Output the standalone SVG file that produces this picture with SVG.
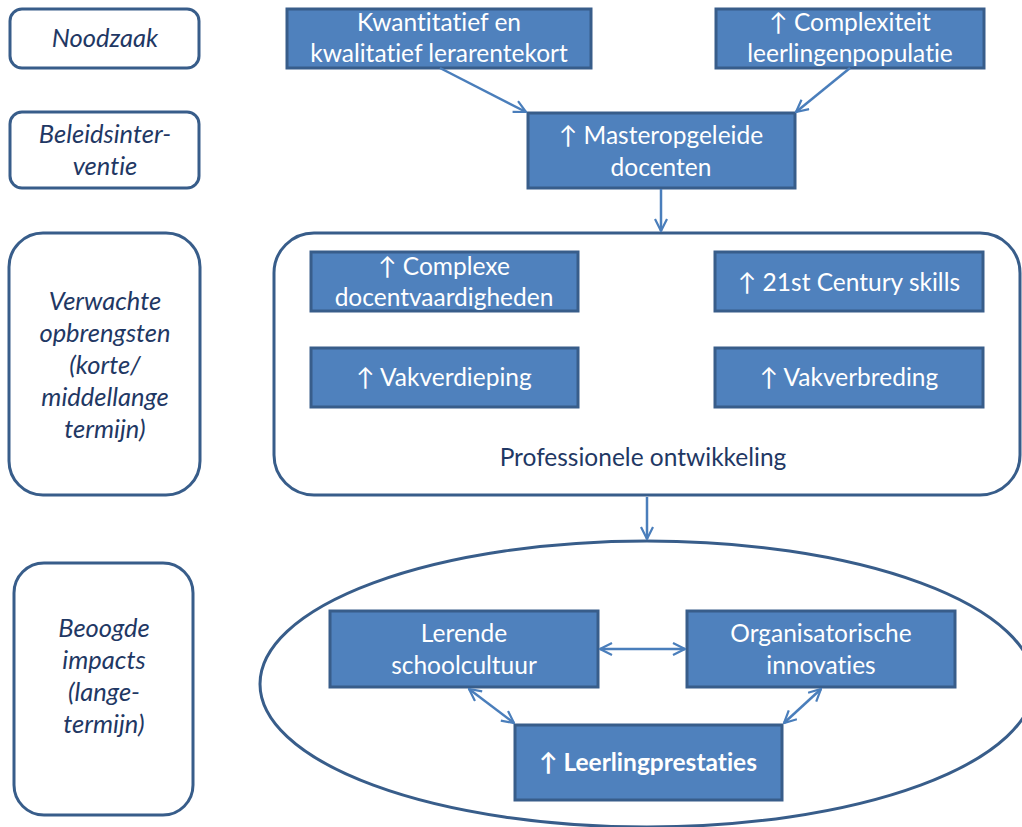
<svg xmlns="http://www.w3.org/2000/svg" width="1022" height="827" viewBox="0 0 1022 827">
<defs>
<marker id="ah" viewBox="0 0 14 14" refX="13" refY="7" markerWidth="14" markerHeight="14" markerUnits="userSpaceOnUse" orient="auto-start-reverse">
<path d="M1,1 L13,7 L1,13" fill="none" stroke="#4a7ebb" stroke-width="2.2"/>
</marker>
<style>
text{font-variant-ligatures:none}
.lbl{fill:#fff;stroke:#385d8a;stroke-width:3}
.lt{font-family:Lato,"Open Sans",sans-serif;font-style:italic;font-size:25.5px;fill:#1f3864;text-anchor:middle}
.box{fill:#4f81bd;stroke:#385d8a;stroke-width:3}
.bt{font-family:Lato,"Open Sans",sans-serif;font-size:24.5px;fill:#fff;text-anchor:middle}
.grp{fill:#fff;stroke:#385d8a;stroke-width:3}
.gt{font-family:Lato,"Open Sans",sans-serif;font-size:24.5px;fill:#1f3864;text-anchor:middle}
.c{stroke:#4a7ebb;stroke-width:2.5;fill:none}
</style>
</defs>
<rect width="1022" height="827" fill="#fff"/>

<g id="lbl-noodzaak"><rect class="lbl" x="10" y="9" width="189" height="59" rx="12"/><text class="lt" x="105" y="47">Noodzaak</text></g>
<g id="lbl-beleid"><rect class="lbl" x="10" y="112" width="189" height="76" rx="12"/><text class="lt" x="105" y="143">Beleidsinter-</text><text class="lt" x="105" y="175">ventie</text></g>
<g id="lbl-verwacht"><rect class="lbl" x="9" y="233" width="191" height="262" rx="34"/>
<text class="lt" x="105" y="310">Verwachte</text><text class="lt" x="105" y="342">opbrengsten</text><text class="lt" x="105" y="374">(korte/</text><text class="lt" x="105" y="406">middellange</text><text class="lt" x="105" y="438">termijn)</text></g>
<g id="lbl-beoogd"><rect class="lbl" x="14" y="563" width="179" height="252" rx="30"/>
<text class="lt" x="104" y="637">Beoogde</text><text class="lt" x="104" y="669">impacts</text><text class="lt" x="104" y="701">(lange-</text><text class="lt" x="104" y="733">termijn)</text></g>

<g id="n-kwant"><rect class="box" x="287" y="9" width="304" height="59"/><text class="bt" x="439" y="31">Kwantitatief en</text><text class="bt" x="439" y="62">kwalitatief lerarentekort</text></g>
<g id="n-complex"><rect class="box" x="716" y="9" width="268" height="59"/><text class="bt" x="850" y="31">↑ Complexiteit</text><text class="bt" x="850" y="62">leerlingenpopulatie</text></g>
<g id="n-master"><rect class="box" x="528" y="113" width="267" height="75"/><text class="bt" x="661" y="144">↑ Masteropgeleide</text><text class="bt" x="661" y="176">docenten</text></g>

<g id="n-prof"><rect class="grp" x="274" y="233" width="746" height="262" rx="40"/><text class="gt" x="643" y="466">Professionele ontwikkeling</text></g>
<g id="n-cdv"><rect class="box" x="311" y="252" width="267" height="59"/><text class="bt" x="444" y="275">↑ Complexe</text><text class="bt" x="444" y="306">docentvaardigheden</text></g>
<g id="n-21"><rect class="box" x="715" y="252" width="268" height="59"/><text class="bt" x="849" y="291">↑ 21st Century skills</text></g>
<g id="n-vdiep"><rect class="box" x="311" y="348" width="267" height="59"/><text class="bt" x="444" y="386">↑ Vakverdieping</text></g>
<g id="n-vbreed"><rect class="box" x="715" y="348" width="268" height="59"/><text class="bt" x="849" y="386">↑ Vakverbreding</text></g>

<g id="n-impact"><ellipse class="grp" cx="647" cy="684" rx="387" ry="143"/></g>
<g id="n-lerend"><rect class="box" x="330" y="611" width="268" height="76"/><text class="bt" x="464" y="642">Lerende</text><text class="bt" x="464" y="674">schoolcultuur</text></g>
<g id="n-org"><rect class="box" x="687" y="611" width="268" height="76"/><text class="bt" x="821" y="642">Organisatorische</text><text class="bt" x="821" y="674">innovaties</text></g>
<g id="n-leerling"><rect class="box" x="515" y="725" width="267" height="75"/><text class="bt" x="648" y="771" font-weight="bold">↑ Leerlingprestaties</text></g>

<g id="connectors">
<line class="c" x1="440" y1="68" x2="526" y2="112" marker-end="url(#ah)"/>
<line class="c" x1="850" y1="68" x2="796" y2="112" marker-end="url(#ah)"/>
<line class="c" x1="661" y1="189" x2="661" y2="231" marker-end="url(#ah)"/>
<line class="c" x1="647" y1="497" x2="647" y2="539" marker-end="url(#ah)"/>
<line class="c" x1="600" y1="649" x2="685" y2="649" marker-start="url(#ah)" marker-end="url(#ah)"/>
<line class="c" x1="469" y1="689" x2="514" y2="723" marker-start="url(#ah)" marker-end="url(#ah)"/>
<line class="c" x1="821" y1="689" x2="784" y2="723" marker-start="url(#ah)" marker-end="url(#ah)"/>
</g>
</svg>
